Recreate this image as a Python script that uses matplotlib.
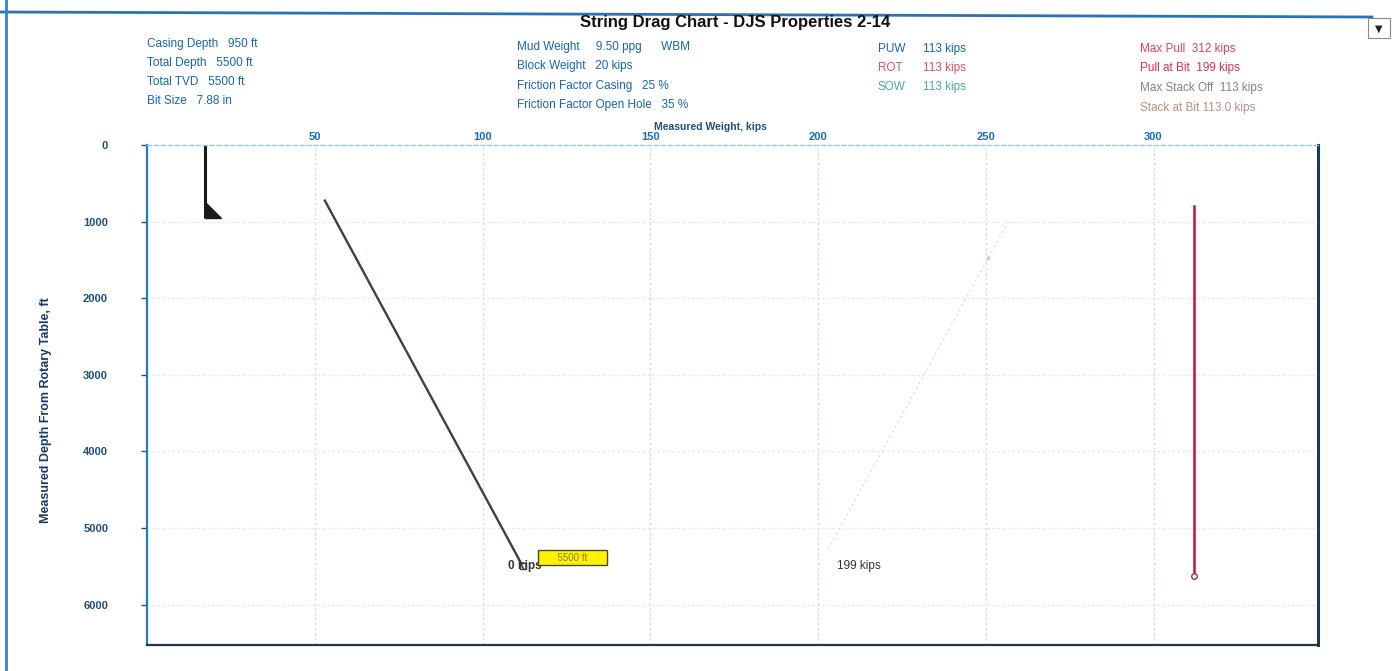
import numpy as np
import matplotlib.pyplot as plt
from matplotlib.lines import Line2D
from matplotlib.patches import Rectangle

plt.rcParams['font.family'] = ['Liberation Sans', 'DejaVu Sans']

# --- data ---
weight_ticks = [50, 100, 150, 200, 250, 300]
depth_ticks = [0, 1000, 2000, 3000, 4000, 5000, 6000]

casing_weight = [17.3, 17.3]
casing_depth = [0, 950]
shoe_weight = [17.3, 17.3, 22.0]
shoe_depth = [750, 950, 950]

sow_weight = [53.0, 112.0]
sow_depth = [725, 5500]

pull_weight = [203.0, 257.0]
pull_depth = [5280, 975]

maxpull_weight = [312.0, 312.0]
maxpull_depth = [800, 5620]

W, H = 1395, 671
fig = plt.figure(figsize=(W / 100, H / 100), dpi=100)

def fx(px):
    return px / W

def fy(py):
    return 1 - py / H

# plot area in pixel terms
ax = fig.add_axes([fx(147), fy(645), fx(1318 - 147), (645 - 145) / H])
ax.set_xlim(0, 349)
ax.set_ylim(6527, 0)

# grid
for w in weight_ticks:
    ax.axvline(w, color='#c9dcea', lw=0.9, ls=(0, (2, 2)), zorder=0)
for d in depth_ticks[1:]:
    ax.axhline(d, color='#e3e6ea', lw=0.9, ls=(0, (2, 2)), zorder=0)

# curves
ax.plot(casing_weight, casing_depth, color='#1a1a1a', lw=2.2, solid_capstyle='butt')
ax.fill(shoe_weight, shoe_depth, color='#1a1a1a')
ax.plot(sow_weight, sow_depth, color='#4a3a42', lw=1.7)
ax.plot(sow_weight[-1:], sow_depth[-1:], marker='s', ms=4, mfc='white', mec='#4a3a42', mew=1)
ax.plot(pull_weight, pull_depth, color='#d6dbe3', lw=1.0, ls=(0, (1.5, 2.5)))
ax.plot([250.5], [1480], marker='o', ms=2.5, color='#f2b8c0', mec='none')
ax.plot(maxpull_weight, maxpull_depth, color='#c8103e', lw=1.8)
ax.plot(maxpull_weight[-1:], maxpull_depth[-1:], marker='o', ms=4, mfc='white', mec='#a0303e', mew=1)

# labels on the curves
ax.text(107.5, 5500, '0 kips', fontsize=8.5, fontweight='bold', color='#333333', va='center', ha='left')
ax.text(126.8, 5385, '      5500 ft      ', fontsize=7, color='#8a7a20', ha='center', va='center',
        bbox=dict(boxstyle='square,pad=0.3', facecolor='#fff200', edgecolor='#4a4a20', lw=1.0))
ax.text(205.5, 5500, '199 kips', fontsize=8.5, color='#333333', va='center', ha='left')

# axes styling
ax.xaxis.tick_top()
ax.set_xticks(weight_ticks)
ax.set_xticklabels([str(w) for w in weight_ticks], fontsize=8, fontweight='bold', color='#1b6cb4')
ax.tick_params(axis='x', length=0, pad=2)
ax.set_yticks(depth_ticks)
ax.set_yticklabels([str(d) for d in depth_ticks], fontsize=8, fontweight='bold', color='#1f4f7a')
ax.tick_params(axis='y', length=4, width=1, color='#1f4f7a', pad=24)

ax.spines['left'].set_color('#2a78bf')
ax.spines['left'].set_linewidth(1.6)
ax.spines['bottom'].set_color('#1f3550')
ax.spines['bottom'].set_linewidth(1.6)
ax.spines['right'].set_color('#163a63')
ax.spines['right'].set_linewidth(2.2)
ax.spines['top'].set_color('#9cc4e4')
ax.spines['top'].set_linewidth(1.0)
ax.spines['top'].set_linestyle((0, (3, 2)))

fig.text(fx(710), fy(127), 'Measured Weight, kips', fontsize=7.5, fontweight='bold',
         color='#1f4f7a', ha='center', va='center')
fig.text(fx(46), fy(410), 'Measured Depth From Rotary Table, ft', fontsize=9, fontweight='bold',
         color='#1a3a66', ha='center', va='center', rotation=90)

# title and header block
fig.text(fx(735), fy(22), 'String Drag Chart - DJS Properties 2-14', fontsize=12,
         fontweight='bold', color='#111111', ha='center', va='center')

blue = '#1565b0'
left_lines = ['Casing Depth   950 ft', 'Total Depth   5500 ft', 'Total TVD   5500 ft', 'Bit Size   7.88 in']
for i, s in enumerate(left_lines):
    fig.text(fx(147), fy(44 + 19 * i), s, fontsize=8.5, color=blue, va='center')

mid_lines = ['Mud Weight     9.50 ppg      WBM', 'Block Weight   20 kips',
             'Friction Factor Casing   25 %', 'Friction Factor Open Hole   35 %']
for i, s in enumerate(mid_lines):
    fig.text(fx(517), fy(47 + 19.3 * i), s, fontsize=8.5, color=blue, va='center')

wt_names = ['PUW', 'ROT', 'SOW']
wt_values = ['113 kips', '113 kips', '113 kips']
wt_colors = ['#1565b0', '#d8506a', '#4aa8a8']
for i in range(3):
    fig.text(fx(878), fy(49 + 19 * i), wt_names[i], fontsize=8.5, color=wt_colors[i], va='center')
    fig.text(fx(923), fy(49 + 19 * i), wt_values[i], fontsize=8.5, color=wt_colors[i], va='center')

right_lines = ['Max Pull  312 kips', 'Pull at Bit  199 kips', 'Max Stack Off  113 kips', 'Stack at Bit 113.0 kips']
right_colors = ['#e0405a', '#d83050', '#8c8080', '#b89088']
for i, s in enumerate(right_lines):
    fig.text(fx(1140), fy(49 + 19.5 * i), s, fontsize=8.5, color=right_colors[i], va='center')

# worksheet frame around the chart
fig.add_artist(Line2D([fx(0), fx(1372)], [fy(12), fy(17)], color='#2a72b4', lw=2.0))
fig.add_artist(Line2D([fx(6), fx(6)], [fy(0), fy(671)], color='#3a82c4', lw=2.0))
fig.add_artist(Rectangle((fx(1368), fy(38)), fx(22), (38 - 18) / H, facecolor='white',
                         edgecolor='#888888', lw=0.8))
fig.text(fx(1379), fy(29), '\u25bc', fontsize=7, color='#222222', ha='center', va='center',
         family=['DejaVu Sans'])

fig.savefig('out.png', dpi=100)
